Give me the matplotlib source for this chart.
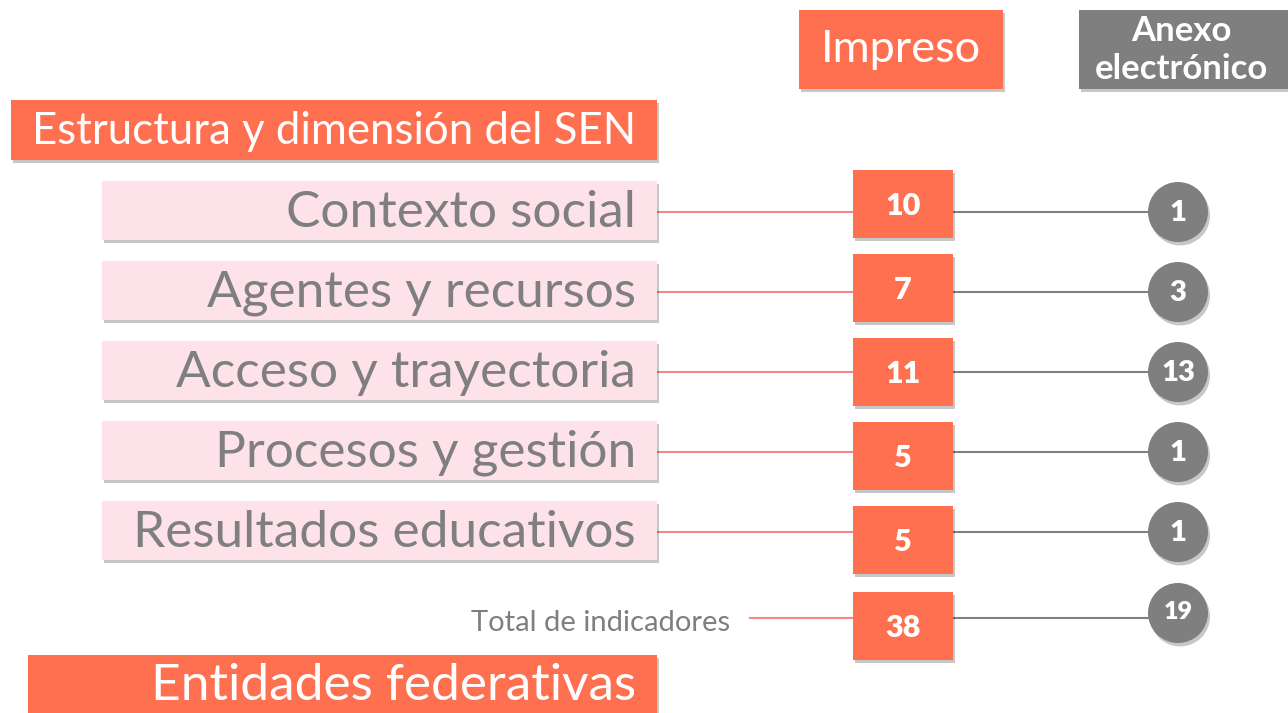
import matplotlib
matplotlib.use("Agg")
import matplotlib.pyplot as plt
import matplotlib.patches as mpatches
import matplotlib.patheffects as pe

plt.rcParams['font.family'] = ['Lato', 'DejaVu Sans']

# Data
categories = ["Contexto social", "Agentes y recursos", "Acceso y trayectoria",
              "Procesos y gestión", "Resultados educativos"]
impreso = [10, 7, 11, 5, 5]
anexo = [1, 3, 13, 1, 1]
total_label = "Total de indicadores"
col_headers = ["Impreso", "Anexo\nelectrónico"]
section_top = "Estructura y dimensión del SEN"
section_bottom = "Entidades federativas"

ORANGE = '#FF7050'
PINK = '#FDE2E9'
GRAY = '#7F7F7F'
PINK_LINE = '#F28A8A'

shadow = [pe.withSimplePatchShadow(offset=(1.5, -2.5), shadow_rgbFace='k', alpha=0.22)]

fig = plt.figure(figsize=(12.88, 7.13), dpi=100)
ax = fig.add_axes([0, 0, 1, 1])
ax.set_xlim(0, 1288)
ax.set_ylim(713, 0)
ax.axis('off')


def box(x0, y0, w, h, color, z=2):
    r = mpatches.Rectangle((x0, y0), w, h, facecolor=color, edgecolor='none',
                           zorder=z, path_effects=shadow)
    ax.add_patch(r)


# column headers
box(799, 10, 204, 79, ORANGE)
ax.text(901, 50, col_headers[0], color='white', fontsize=32.5, ha='center',
        va='center', zorder=5)
box(1079, 10, 220, 79, GRAY)
ax.text(1181, 50, col_headers[1], color='white', fontsize=25, fontweight='bold',
        ha='center', va='center', linespacing=1.2, zorder=5)

# section header
box(11, 100, 646, 60, ORANGE)
ax.text(636, 132, section_top, color='white', fontsize=31.5, ha='right',
        va='center', zorder=5)

# rows
row_y0, row_step = 212, 80
for i, (cat, a, b) in enumerate(zip(categories, impreso, anexo)):
    y = row_y0 + row_step * i
    box(102, y - 31, 555, 59, PINK)
    ax.text(636, y + 1, cat, color=GRAY, fontsize=37, ha='right',
            va='center', zorder=5)
    ax.plot([657, 855], [y, y], color=PINK_LINE, lw=1.5, zorder=1)
    ax.plot([953, 1150], [y, y], color=GRAY, lw=1.5, zorder=1)
    sq_c = y - 8 + 4 * i
    box(853, sq_c - 34, 100, 68, ORANGE, z=3)
    ax.text(903, sq_c + 2, str(a), color='white', fontsize=22,
            fontweight='heavy', ha='center', va='center', zorder=5)
    c = mpatches.Circle((1178, y), 30, facecolor=GRAY, edgecolor='none',
                        zorder=3, path_effects=shadow)
    ax.add_patch(c)
    ax.text(1178, y + 1, str(b), color='white', fontsize=21,
            fontweight='heavy', ha='center', va='center', zorder=5)

# total row
y = 618
ax.text(730, y + 5, total_label, color=GRAY, fontsize=21, ha='right',
        va='center', zorder=5)
ax.plot([750, 855], [y, y], color=PINK_LINE, lw=1.5, zorder=1)
ax.plot([953, 1150], [y, y], color=GRAY, lw=1.5, zorder=1)
box(853, 592, 100, 68, ORANGE, z=3)
ax.text(903, 628, str(sum(impreso)), color='white', fontsize=22,
        fontweight='heavy', ha='center', va='center', zorder=5)
c = mpatches.Circle((1178, 613), 30, facecolor=GRAY, edgecolor='none',
                    zorder=3, path_effects=shadow)
ax.add_patch(c)
ax.text(1178, 612, str(sum(anexo)), color='white', fontsize=18,
        fontweight='heavy', ha='center', va='center', zorder=5)

# bottom section
box(28, 655, 629, 70, ORANGE)
ax.text(636, 686, section_bottom, color='white', fontsize=37, ha='right',
        va='center', zorder=5)

fig.savefig('out.png', dpi=100)
